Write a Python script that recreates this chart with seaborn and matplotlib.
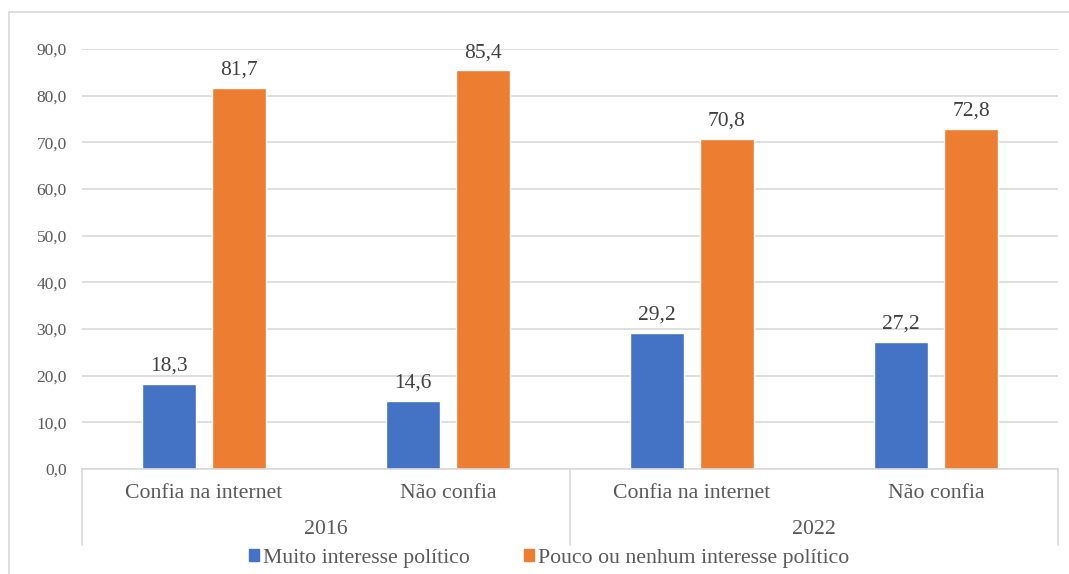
import matplotlib
matplotlib.use("Agg")
import matplotlib.pyplot as plt
from matplotlib.patches import Rectangle
from matplotlib.ticker import FuncFormatter
import seaborn as sns
import pandas as pd

# Data
years = ["2016", "2016", "2022", "2022"]
groups = ["Confia na internet", "Não confia", "Confia na internet", "Não confia"]
series = ["Muito interesse político", "Pouco ou nenhum interesse político"]
muito = [18.3, 14.6, 29.2, 27.2]
pouco = [81.7, 85.4, 70.8, 72.8]
yticks = [0, 10, 20, 30, 40, 50, 60, 70, 80, 90]

colors = ["#4472C4", "#ED7D31"]
grid_c = "#D9D9D9"
text_c = "#595959"
label_c = "#404040"

keys = [f"{y} {g}" for y, g in zip(years, groups)]
df = pd.DataFrame({
    "cat": keys * 2,
    "serie": [series[0]] * 4 + [series[1]] * 4,
    "valor": muito + pouco,
})

sns.set_theme(style="white")
plt.rcParams["font.family"] = ["Liberation Serif", "DejaVu Serif"]

fig = plt.figure(figsize=(10.69, 5.74), dpi=100)
ax = fig.add_axes([82 / 1069, 1 - 469 / 574, (1058 - 82) / 1069, 420 / 574])

sns.barplot(data=df, x="cat", y="valor", hue="serie", order=keys,
            hue_order=series, palette=colors, width=0.574, gap=0.22,
            saturation=1, ax=ax, legend=False)

ax.set_xlim(-0.5, 3.5)
ax.set_ylim(0, 90)
ax.set_yticks(yticks)
ax.yaxis.set_major_formatter(FuncFormatter(lambda v, p: f"{v:.1f}".replace(".", ",")))
ax.yaxis.grid(True, color=grid_c, linewidth=1.2)
ax.set_axisbelow(True)
ax.tick_params(axis="y", length=0, pad=11, labelsize=12.5, labelcolor=text_c)
ax.tick_params(axis="x", length=0)
ax.set_xticks([])
ax.set_xlabel("")
ax.set_ylabel("")
for s in ["top", "right", "left"]:
    ax.spines[s].set_visible(False)
ax.spines["bottom"].set_color(grid_c)
ax.spines["bottom"].set_linewidth(1.2)

# Value labels
for cont in ax.containers:
    ax.bar_label(cont, labels=[f"{v:.1f}".replace(".", ",") for v in cont.datavalues],
                 padding=6, fontsize=15.5, color=label_c)

# Two-level category axis
trans = ax.get_xaxis_transform()
for i, g in enumerate(groups):
    ax.text(i, -25 / 420, g, transform=trans, ha="center", va="center",
            fontsize=15.7, color=text_c)
for j, y in enumerate(["2016", "2022"]):
    ax.text(2 * j + 0.5, -61 / 420, y, transform=trans, ha="center", va="center",
            fontsize=15.7, color=text_c)
for xv in [-0.5, 1.5, 3.5]:
    ax.plot([xv, xv], [0, -76 / 420], transform=trans, color=grid_c,
            linewidth=1.2, clip_on=False)

# Legend
handles = [Rectangle((0, 0), 1, 1, color=c) for c in colors]
fig.legend(handles, series, loc="center", bbox_to_anchor=(549 / 1069, 1 - 558.5 / 574),
           ncol=2, frameon=False, fontsize=15.7, handlelength=0.46, handleheight=0.46,
           handletextpad=0.18, columnspacing=2.5, labelcolor=text_c)

# Chart border
fig.patches.append(Rectangle((9 / 1069, -0.05), 1.1, 1 - 12 / 574 + 0.05,
                             transform=fig.transFigure, fill=False,
                             edgecolor=grid_c, linewidth=1.2))

fig.savefig("out.png", dpi=100, facecolor="white")
